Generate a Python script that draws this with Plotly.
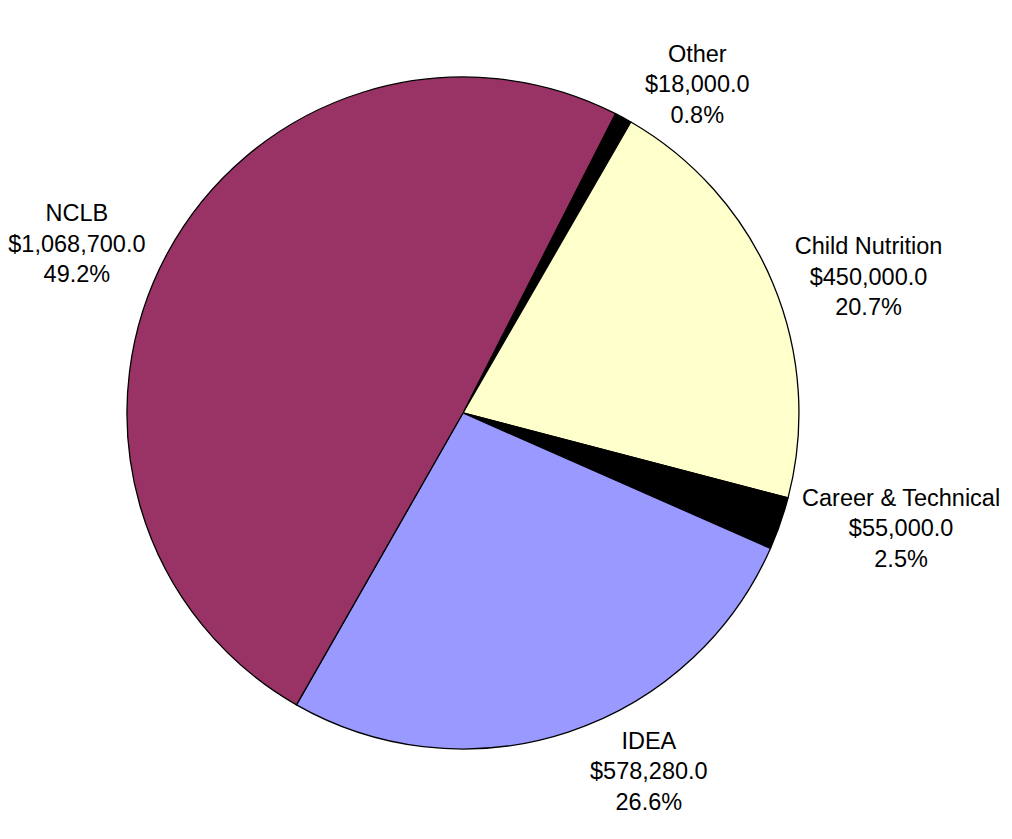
import plotly.graph_objects as go

labels = ["Other", "Child Nutrition", "Career & Technical", "IDEA", "NCLB"]
values = [18000.0, 450000.0, 55000.0, 578280.0, 1068700.0]
colors = ["#000000", "#FFFFCC", "#000000", "#9999FF", "#993366"]

value_text = ["${:,.1f}".format(v) for v in values]

fig = go.Figure(go.Pie(
    labels=labels,
    values=values,
    text=value_text,
    sort=False,
    direction="clockwise",
    rotation=27,
    automargin=False,
    marker=dict(colors=colors, line=dict(color="#000000", width=1.3)),
    textposition="outside",
    texttemplate="%{label}<br>%{text}<br>%{percent:.1%}",
    textfont=dict(family="Liberation Sans, Arial, sans-serif", size=23.5, color="#000000"),
    showlegend=False,
    hoverinfo="skip",
    domain=dict(x=[0.1185, 0.7878], y=[0.0996, 0.9162]),
))

fig.update_layout(
    template="none",
    width=1004,
    height=823,
    margin=dict(l=0, r=0, t=0, b=0),
    paper_bgcolor="#FFFFFF",
    plot_bgcolor="#FFFFFF",
)

fig.write_html("out.html")
